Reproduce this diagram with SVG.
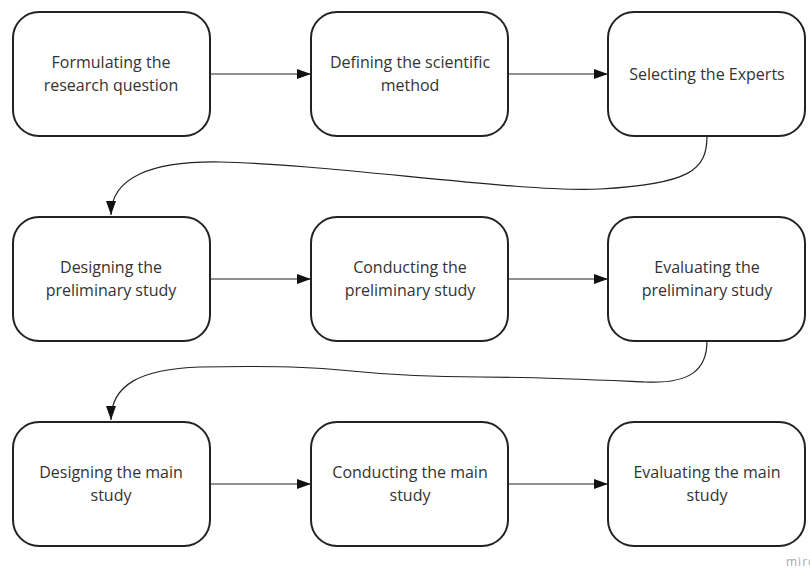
<svg xmlns="http://www.w3.org/2000/svg" width="810" height="571" viewBox="0 0 810 571">
<defs>
<style>
.box{fill:#fff;stroke:#222;stroke-width:2}
.t{font-family:"Open Sans","Noto Sans",sans-serif;font-size:16px;fill:#333;text-anchor:middle}
.c{fill:none;stroke:#222;stroke-width:1.2}
</style>
<marker id="ah" markerWidth="14" markerHeight="10" refX="14" refY="5" orient="auto" markerUnits="userSpaceOnUse">
<path d="M0,0 L14,5 L0,10 Z" fill="#111"/>
</marker>
</defs>
<rect width="810" height="571" fill="#fff"/>
<g id="connectors">
<path class="c" d="M210,74 L311,74" marker-end="url(#ah)"/>
<path class="c" d="M508,74 L608,74" marker-end="url(#ah)"/>
<path class="c" d="M210,279 L311,279" marker-end="url(#ah)"/>
<path class="c" d="M508,279 L608,279" marker-end="url(#ah)"/>
<path class="c" d="M210,484 L311,484" marker-end="url(#ah)"/>
<path class="c" d="M508,484 L608,484" marker-end="url(#ah)"/>
<path class="c" d="M707,136 C707,170 690,184 600,189 C520,193 330,164 220,162 C150,161 111,178 111,215" marker-end="url(#ah)"/>
<path class="c" d="M707,341 C707,370 690,384 645,382 C600,380 540,377 480,377 C420,377 380,374 340,370 C300,366 250,366 200,367 C140,369 111,385 111,420" marker-end="url(#ah)"/>
</g>
<g id="n1"><rect class="box" x="13" y="12" width="197" height="124" rx="26"/><text class="t" x="111" y="68">Formulating the</text><text class="t" x="111" y="91">research question</text></g>
<g id="n2"><rect class="box" x="311" y="12" width="197" height="124" rx="26"/><text class="t" x="410" y="68">Defining the scientific</text><text class="t" x="410" y="91">method</text></g>
<g id="n3"><rect class="box" x="608" y="12" width="197" height="124" rx="26"/><text class="t" x="707" y="80">Selecting the Experts</text></g>
<g id="n4"><rect class="box" x="13" y="217" width="197" height="124" rx="26"/><text class="t" x="111" y="273">Designing the</text><text class="t" x="111" y="296">preliminary study</text></g>
<g id="n5"><rect class="box" x="311" y="217" width="197" height="124" rx="26"/><text class="t" x="410" y="273">Conducting the</text><text class="t" x="410" y="296">preliminary study</text></g>
<g id="n6"><rect class="box" x="608" y="217" width="197" height="124" rx="26"/><text class="t" x="707" y="273">Evaluating the</text><text class="t" x="707" y="296">preliminary study</text></g>
<g id="n7"><rect class="box" x="13" y="422" width="197" height="124" rx="26"/><text class="t" x="111" y="478">Designing the main</text><text class="t" x="111" y="501">study</text></g>
<g id="n8"><rect class="box" x="311" y="422" width="197" height="124" rx="26"/><text class="t" x="410" y="478">Conducting the main</text><text class="t" x="410" y="501">study</text></g>
<g id="n9"><rect class="box" x="608" y="422" width="197" height="124" rx="26"/><text class="t" x="707" y="478">Evaluating the main</text><text class="t" x="707" y="501">study</text></g>
<text x="786" y="566" font-family="'Open Sans',sans-serif" font-size="12" fill="#aaa" letter-spacing="1">miro</text>
</svg>
